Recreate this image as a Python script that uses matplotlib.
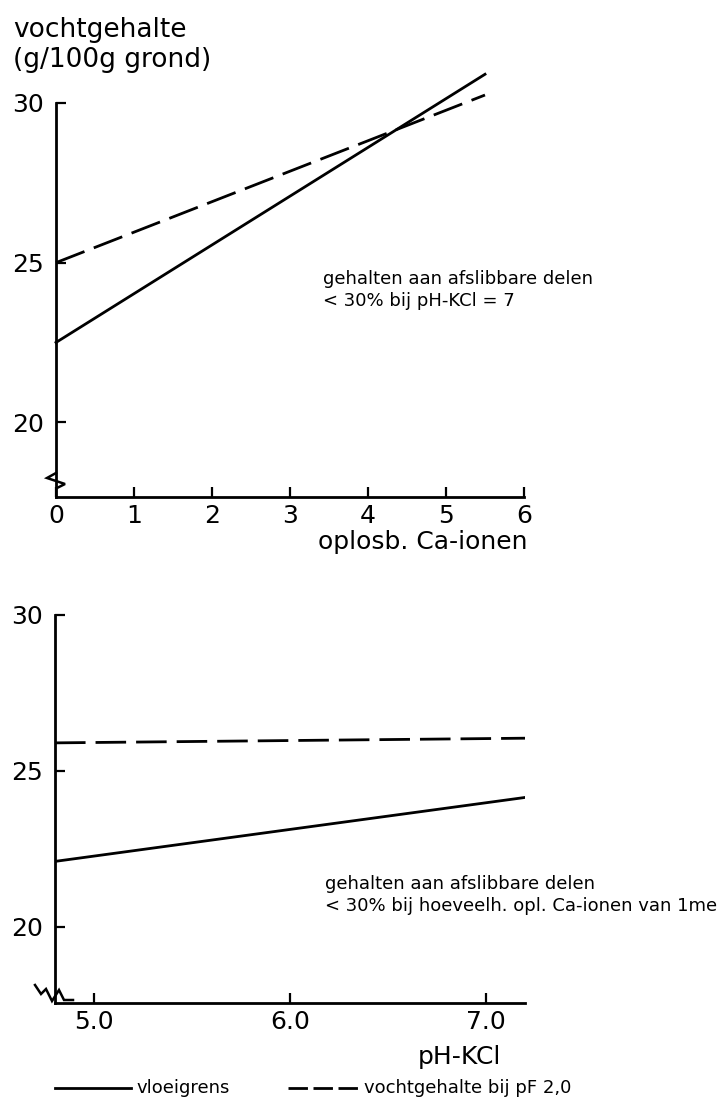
import matplotlib
import matplotlib.pyplot as plt
import numpy as np
from matplotlib.lines import Line2D

matplotlib.use("Agg")

# bovenste figuur: oplosbare Ca-ionen
ca_x = [0.0, 5.5]
ca_vloeigrens = [22.5, 30.9]
ca_pf20 = [25.0, 30.25]
ca_ticks = [0, 1, 2, 3, 4, 5, 6]

# onderste figuur: pH-KCl
ph_x = [4.8, 7.2]
ph_vloeigrens = [22.1, 24.15]
ph_pf20 = [25.9, 26.05]
ph_ticks = [5.0, 6.0, 7.0]

y_ticks = [20, 25, 30]

W, H = 720, 1097
LW = 2.0
DASH = (11, 3.6)


def px_box(left, top, right, bottom):
    return [left / W, 1 - bottom / H, (right - left) / W, (bottom - top) / H]


def fig_xy(x, y):
    return x / W, 1 - y / H


def style_axes(ax):
    for side in ("top", "right"):
        ax.spines[side].set_visible(False)
    for side in ("left", "bottom"):
        ax.spines[side].set_linewidth(LW)
    ax.tick_params(direction="in", length=7, width=1.6, labelsize=18)
    ax.tick_params(axis="y", pad=9)
    ax.tick_params(axis="x", pad=5)
    ax.set_yticks(y_ticks)


def squiggle(ax, pts):
    # breukteken, punten in pixels t.o.v. de linkeronderhoek
    bbox = ax.get_position()
    w, h = bbox.width * W, bbox.height * H
    pts = np.asarray(pts, dtype=float)
    ax.plot(pts[:, 0] / w, pts[:, 1] / h, transform=ax.transAxes,
            color="black", lw=1.8, clip_on=False, solid_joinstyle="miter")


fig = plt.figure(figsize=(W / 100, H / 100), dpi=100)

ax1 = fig.add_axes(px_box(56, 103, 524, 497))
style_axes(ax1)
ax1.set_xlim(0, 6)
ax1.set_ylim(17.66, 30)
ax1.set_xticks(ca_ticks)
ax1.plot(ca_x, ca_vloeigrens, color="black", lw=LW, clip_on=False)
ax1.plot(ca_x, ca_pf20, color="black", lw=LW, dashes=DASH, clip_on=False)
squiggle(ax1, [(0, 24), (-9, 19), (9, 13), (1, 9)])

ax2 = fig.add_axes(px_box(55, 615, 525, 1003))
style_axes(ax2)
ax2.set_xlim(4.8, 7.2)
ax2.set_ylim(17.56, 30)
ax2.set_xticks(ph_ticks)
ax2.set_xticklabels([f"{t:.1f}" for t in ph_ticks])
ax2.plot(ph_x, ph_vloeigrens, color="black", lw=LW)
ax2.plot(ph_x, ph_pf20, color="black", lw=LW, dashes=DASH)
squiggle(ax2, [(-20, 18), (-14, 9), (-9, 14), (-3, 2), (4, 13), (9, 3), (18, 3)])

# teksten
fig.text(*fig_xy(13, 45), "vochtgehalte\n(g/100g grond)", fontsize=19,
         va="center", ha="left", linespacing=1.2)
fig.text(*fig_xy(528, 542), "oplosb. Ca-ionen", fontsize=18, ha="right", va="center")
fig.text(*fig_xy(501, 1057), "pH-KCl", fontsize=18, ha="right", va="center")

fig.text(*fig_xy(323, 290), "gehalten aan afslibbare delen\n< 30% bij pH-KCl = 7",
         fontsize=13, va="center", ha="left", linespacing=1.35)
fig.text(*fig_xy(325, 895),
         "gehalten aan afslibbare delen\n< 30% bij hoeveelh. opl. Ca-ionen van 1me",
         fontsize=13, va="center", ha="left", linespacing=1.35)

# legenda onderaan
ly = 1 - 1088 / H
fig.add_artist(Line2D([55 / W, 131 / W], [ly, ly], color="black", lw=LW))
fig.text(136 / W, ly, "vloeigrens", fontsize=13, va="center")
fig.add_artist(Line2D([288 / W, 362 / W], [ly, ly], color="black", lw=LW, dashes=(7, 2)))
fig.text(364 / W, ly, "vochtgehalte bij pF 2,0", fontsize=13, va="center")

fig.savefig("out.png", dpi=100)
plt.close(fig)
